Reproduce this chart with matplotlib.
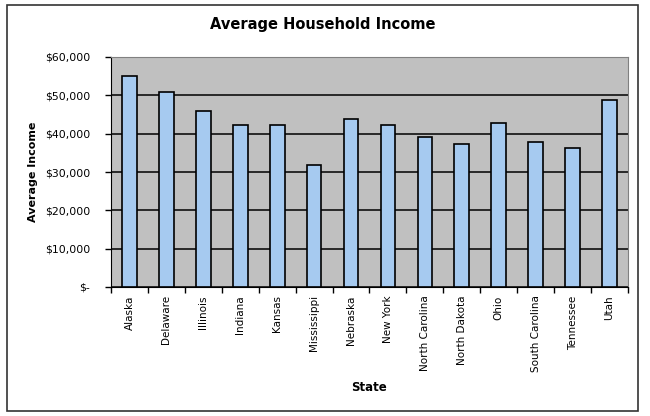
import matplotlib
matplotlib.use("Agg")
import matplotlib.pyplot as plt
from matplotlib.patches import Rectangle
from matplotlib.ticker import FuncFormatter, FixedLocator

states = ["Alaska", "Delaware", "Illinois", "Indiana", "Kansas", "Mississippi",
          "Nebraska", "New York", "North Carolina", "North Dakota", "Ohio",
          "South Carolina", "Tennessee", "Utah"]
income = [55000, 51000, 46000, 42200, 42200, 31800, 43800, 42200, 39100,
          37200, 42900, 37800, 36200, 48900]
yticks = [0, 10000, 20000, 30000, 40000, 50000, 60000]

W, H = 650, 416
fig = plt.figure(figsize=(W / 100, H / 100), dpi=100)
fig.patch.set_facecolor("white")

# outer chart border
fig.add_artist(Rectangle((7 / W, 1 - 411 / H), (638 - 7) / W, (411 - 5) / H,
                         transform=fig.transFigure, fill=False,
                         edgecolor="#333333", linewidth=1.2))

left, right, top, bottom = 111, 628, 57, 287
ax = fig.add_axes([left / W, 1 - bottom / H, (right - left) / W, (bottom - top) / H])
ax.set_facecolor("#C0C0C0")

x = list(range(len(states)))
ax.bar(x, income, width=0.4, color="#A6CAF0", edgecolor="black", linewidth=1.2, zorder=3)

ax.set_xlim(-0.5, len(states) - 0.5)
ax.set_ylim(0, 60000)
ax.set_yticks(yticks)
ax.yaxis.set_major_formatter(FuncFormatter(lambda v, p: "$-" if v == 0 else f"${int(v):,}"))
ax.grid(axis="y", color="black", linewidth=1.1, zorder=1)
ax.set_axisbelow(True)

ax.set_xticks(x)
ax.set_xticklabels(states, rotation=90, fontsize=7.5)
ax.xaxis.set_minor_locator(FixedLocator([i - 0.5 for i in range(len(states) + 1)]))
ax.tick_params(axis="x", which="major", length=0, pad=6)
ax.tick_params(axis="x", which="minor", length=4, width=1, color="black", direction="out")
ax.tick_params(axis="y", length=4, width=1, color="black", direction="out", labelsize=7.8, pad=11)

for s in ["top", "right"]:
    ax.spines[s].set_color("#808080")
ax.spines["left"].set_color("black")
ax.spines["bottom"].set_color("black")

ax.set_ylabel("Average Income", fontsize=8, fontweight="bold", labelpad=5)
ax.set_xlabel("State", fontsize=8.5, fontweight="bold", labelpad=6)

fig.text(323 / W, 1 - 25 / H, "Average Household Income", ha="center", va="center",
         fontsize=10.5, fontweight="bold")

fig.savefig("out.png", dpi=100)
